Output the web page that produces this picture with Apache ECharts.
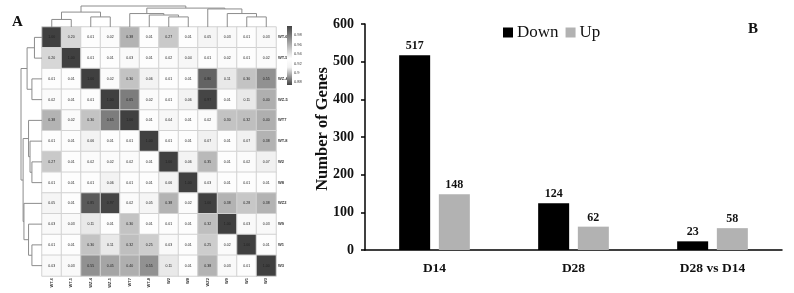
<!DOCTYPE html>
<html>
<head>
<meta charset="utf-8">
<style>
html, body { margin: 0; padding: 0; background: #fff; }
#main { width: 794px; height: 293px; filter: blur(0.35px); }
</style>
<script src="https://cdn.jsdelivr.net/npm/echarts@6/dist/echarts.min.js"></script>
</head>
<body>
<div id="main"></div>
<script>
// panel A
var samples = ['WT-6', 'WT-5', 'WZ-4', 'WZ-5', 'WT7', 'WT-8', 'W2', 'W8', 'WZ2', 'W9', 'W1', 'W3'];
var corrRows = [
    [1.00, 0.20, 0.01, 0.02, 0.38, 0.01, 0.27, 0.01, 0.05, 0.03, 0.01, 0.03],
    [0.20, 1.00, 0.01, 0.01, 0.03, 0.01, 0.02, 0.04, 0.01, 0.02, 0.01, 0.02],
    [0.01, 0.01, 1.00, 0.02, 0.30, 0.06, 0.01, 0.01, 0.80, 0.11, 0.30, 0.55],
    [0.02, 0.01, 0.01, 1.00, 0.65, 0.02, 0.01, 0.06, 0.97, 0.01, 0.11, 0.40],
    [0.38, 0.02, 0.30, 0.65, 1.00, 0.01, 0.04, 0.01, 0.02, 0.30, 0.32, 0.40],
    [0.01, 0.01, 0.06, 0.01, 0.01, 1.00, 0.01, 0.01, 0.07, 0.01, 0.07, 0.38],
    [0.27, 0.01, 0.02, 0.02, 0.02, 0.01, 1.00, 0.06, 0.35, 0.01, 0.02, 0.07],
    [0.01, 0.01, 0.01, 0.06, 0.01, 0.01, 0.06, 1.00, 0.03, 0.01, 0.01, 0.01],
    [0.05, 0.01, 0.85, 0.97, 0.02, 0.05, 0.38, 0.02, 1.00, 0.38, 0.28, 0.38],
    [0.03, 0.03, 0.11, 0.01, 0.30, 0.01, 0.01, 0.01, 0.32, 1.00, 0.03, 0.03],
    [0.01, 0.01, 0.30, 0.11, 0.32, 0.25, 0.03, 0.01, 0.25, 0.02, 1.00, 0.01],
    [0.03, 0.03, 0.55, 0.45, 0.40, 0.55, 0.11, 0.01, 0.38, 0.03, 0.01, 1.00]
];
// nested merges: [distance, left, right], leaves are sample indexes
var dendroTree = [1.00,
    [0.71, [0.36, 0, 1], [0.48, 2, 3]],
    [0.90,
        [0.64, 4, [0.57, 5, [0.48, 6, 7]]],
        [0.86, 8, [0.64, 9, [0.48, 10, 11]]]
    ]
];
var scaleTicks = [1, 0.98, 0.96, 0.94, 0.92, 0.9, 0.88];

// panel B
var groups = ['D14', 'D28', 'D28 vs D14'];
var downGenes = [517, 124, 23];
var upGenes = [148, 62, 58];

var serif = '"Liberation Serif", serif';
var sans = '"Liberation Sans", sans-serif';

var heatData = [];
corrRows.forEach(function (row, r) {
    row.forEach(function (v, c) {
        heatData.push([c, r, v]);
    });
});

// flatten the tree to one row per merge
var merges = [];
function walk(node) {
    if (typeof node === 'number') {
        return { pos: node, h: 0 };
    }
    var a = walk(node[1]);
    var b = walk(node[2]);
    merges.push([a.pos, b.pos, node[0], a.h, b.h]);
    return { pos: (a.pos + b.pos) / 2, h: node[0] };
}
walk(dendroTree);

function dendroSeries(xIdx, yIdx, sideways) {
    return {
        type: 'custom',
        xAxisIndex: xIdx,
        yAxisIndex: yIdx,
        silent: true,
        data: merges,
        renderItem: function (params, api) {
            var p = function (pos, h) {
                return api.coord(sideways ? [h, pos] : [pos, h]);
            };
            var x1 = api.value(0), x2 = api.value(1), h = api.value(2);
            return {
                type: 'polyline',
                shape: { points: [p(x1, api.value(3)), p(x1, h), p(x2, h), p(x2, api.value(4))] },
                style: { stroke: '#8c8c8c', lineWidth: 1, fill: null }
            };
        }
    };
}

var myChart = echarts.init(document.getElementById('main'), null, { renderer: 'canvas' });
var hidden = { show: false };

var option = {
    animation: false,
    backgroundColor: '#fff',
    title: [
        { text: 'A', left: 7, top: 10, textStyle: { fontFamily: serif, fontWeight: 'bold', fontSize: 15, color: '#111' } },
        { text: 'B', left: 743, top: 17, textStyle: { fontFamily: serif, fontWeight: 'bold', fontSize: 15, color: '#111' } }
    ],
    legend: {
        data: ['Down', 'Up'],
        left: 498,
        top: 19,
        icon: 'rect',
        itemWidth: 10,
        itemHeight: 10,
        itemGap: 7,
        textStyle: { fontFamily: serif, fontSize: 17, color: '#111', padding: [0, 0, 0, -1] }
    },
    grid: [
        { left: 42, top: 27, width: 234, height: 249 },
        { left: 42, top: 6, width: 234, height: 21 },
        { left: 21, top: 27, width: 21, height: 249 },
        { left: 287, top: 26, width: 5, height: 59 },
        { left: 365, top: 24, width: 417, height: 226 }
    ],
    xAxis: [
        {
            type: 'category', gridIndex: 0, data: samples,
            axisLine: hidden, axisTick: hidden, splitLine: hidden,
            axisLabel: { rotate: 90, fontSize: 4, fontFamily: sans, fontWeight: 'bold', color: '#333', margin: 2, interval: 0 }
        },
        { type: 'value', gridIndex: 1, min: -0.5, max: 11.5, show: false },
        { type: 'value', gridIndex: 2, min: 0, max: 1, inverse: true, show: false },
        { type: 'category', gridIndex: 3, data: ['scale'], show: false },
        {
            type: 'category', gridIndex: 4, data: groups,
            axisLine: { onZero: false, lineStyle: { color: '#000', width: 1.5 } },
            axisTick: { length: 4, lineStyle: { color: '#000', width: 1.5 } },
            axisLabel: { fontFamily: serif, fontWeight: 'bold', fontSize: 13.5, color: '#111', margin: 12 }
        }
    ],
    yAxis: [
        {
            type: 'category', gridIndex: 0, data: samples, inverse: true, position: 'right',
            axisLine: hidden, axisTick: hidden, splitLine: hidden,
            axisLabel: { fontSize: 4, fontFamily: sans, fontWeight: 'bold', color: '#333', margin: 2, interval: 0 }
        },
        { type: 'value', gridIndex: 1, min: 0, max: 1, show: false },
        { type: 'value', gridIndex: 2, min: -0.5, max: 11.5, inverse: true, show: false },
        {
            type: 'value', gridIndex: 3, min: 0.874, max: 1, position: 'right',
            axisLine: hidden, axisTick: hidden, splitLine: hidden,
            axisLabel: {
                customValues: scaleTicks, fontSize: 4, fontFamily: sans, color: '#333', margin: 2,
                showMinLabel: false
            }
        },
        {
            type: 'value', gridIndex: 4, min: 0, max: 600, interval: 100,
            name: 'Number of Genes',
            nameLocation: 'middle',
            nameGap: 34,
            nameMoveOverlap: false,
            nameTextStyle: { fontFamily: serif, fontWeight: 'bold', fontSize: 16.5, color: '#111', padding: [0, 0, 0, 16] },
            splitLine: hidden,
            axisLine: { show: true, lineStyle: { color: '#000', width: 1.5 } },
            axisTick: { show: true, length: 4, lineStyle: { color: '#000', width: 1.5 } },
            axisLabel: { fontFamily: serif, fontWeight: 'bold', fontSize: 14, color: '#111', margin: 11 }
        }
    ],
    visualMap: {
        show: false,
        seriesIndex: 0,
        dimension: 2,
        min: 0,
        max: 1,
        inRange: { color: ['#ffffff', '#bcbcbc', '#7a7a7a', '#404040'] }
    },
    series: [
        {
            type: 'heatmap',
            xAxisIndex: 0,
            yAxisIndex: 0,
            data: heatData,
            itemStyle: { borderColor: '#d2d2d2', borderWidth: 1 },
            label: {
                show: true,
                fontSize: 3.5,
                fontFamily: sans,
                color: '#222',
                formatter: function (p) { return p.value[2].toFixed(2); }
            }
        },
        dendroSeries(1, 1, false),
        dendroSeries(2, 2, true),
        {
            type: 'bar',
            xAxisIndex: 3,
            yAxisIndex: 3,
            barWidth: 5,
            silent: true,
            data: [1],
            itemStyle: {
                color: new echarts.graphic.LinearGradient(0, 0, 0, 1, [
                    { offset: 0, color: '#444' },
                    { offset: 0.55, color: '#fff' },
                    { offset: 0.7, color: '#f2f2f2' },
                    { offset: 1, color: '#444' }
                ])
            }
        },
        {
            name: 'Down',
            type: 'bar',
            xAxisIndex: 4,
            yAxisIndex: 4,
            barWidth: 31,
            barGap: '28%',
            data: downGenes,
            itemStyle: { color: '#000' },
            label: { show: true, position: 'top', distance: 3, fontFamily: serif, fontWeight: 'bold', fontSize: 12, color: '#111' }
        },
        {
            name: 'Up',
            type: 'bar',
            xAxisIndex: 4,
            yAxisIndex: 4,
            barWidth: 31,
            barGap: '28%',
            data: upGenes,
            itemStyle: { color: '#b2b2b2' },
            label: { show: true, position: 'top', distance: 3, fontFamily: serif, fontWeight: 'bold', fontSize: 12, color: '#111' }
        }
    ]
};
myChart.setOption(option);
</script>
</body>
</html>
